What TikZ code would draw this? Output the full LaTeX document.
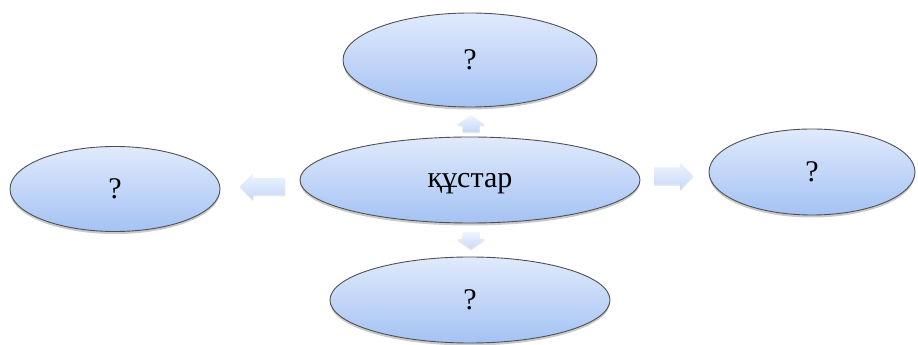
\documentclass[tikz,border=0pt]{standalone}
\usepackage{fontspec}
\setmainfont{Liberation Serif}
\usetikzlibrary{shapes.geometric,shadows}
\definecolor{elltop}{HTML}{E0EAFC}
\definecolor{ellbot}{HTML}{A4C2F4}
\definecolor{ellline}{HTML}{505050}
\definecolor{arrtop}{HTML}{EEF4FE}
\definecolor{arrbot}{HTML}{C6D8F8}
\tikzset{
  bubble/.style={ellipse, draw=ellline, line width=0.9pt, top color=elltop, bottom color=ellbot,
    inner sep=0pt, font=\fontsize{30}{34}\selectfont, text depth=0pt,
    drop shadow={shadow xshift=0pt, shadow yshift=-2.5pt, opacity=0.35, fill=black!60}},
  blockarrow/.style={draw=none, top color=arrtop, bottom color=arrbot,
    drop shadow={shadow xshift=0pt, shadow yshift=-1.5pt, opacity=0.15, fill=black!60}},
}
\begin{document}
\begin{tikzpicture}[x=1pt,y=1pt]
\useasboundingbox (0,0) rectangle (918,345);
\node[bubble, minimum width=254pt, minimum height=94pt] (top) at (470,285) {?};
\node[bubble, minimum width=340pt, minimum height=86pt] (mid) at (470,165) {құстар};
\node[bubble, minimum width=210pt, minimum height=85pt] (left) at (115,156) {?};
\node[bubble, minimum width=206pt, minimum height=86pt] (right) at (812,173) {?};
\node[bubble, minimum width=280pt, minimum height=86pt] (bottom) at (470,45) {?};
% up arrow: x 458-485, y 213-230
\path[blockarrow] (462.5,213) -- (479.5,213) -- (479.5,220) -- (485,220) -- (471,230) -- (457,220) -- (462.5,220) -- cycle;
% down arrow
\path[blockarrow] (462.5,113) -- (479.5,113) -- (479.5,106) -- (485,106) -- (471,96) -- (457,106) -- (462.5,106) -- cycle;
% left arrow: x 240-285, y 145-172
\path[blockarrow] (285,150) -- (253,150) -- (253,145) -- (240,158.5) -- (253,172) -- (253,167) -- (285,167) -- cycle;
% right arrow: x 654-693, y 155-183
\path[blockarrow] (654,160.5) -- (680,160.5) -- (680,155) -- (693,169) -- (680,183) -- (680,177.5) -- (654,177.5) -- cycle;
\end{tikzpicture}
\end{document}
